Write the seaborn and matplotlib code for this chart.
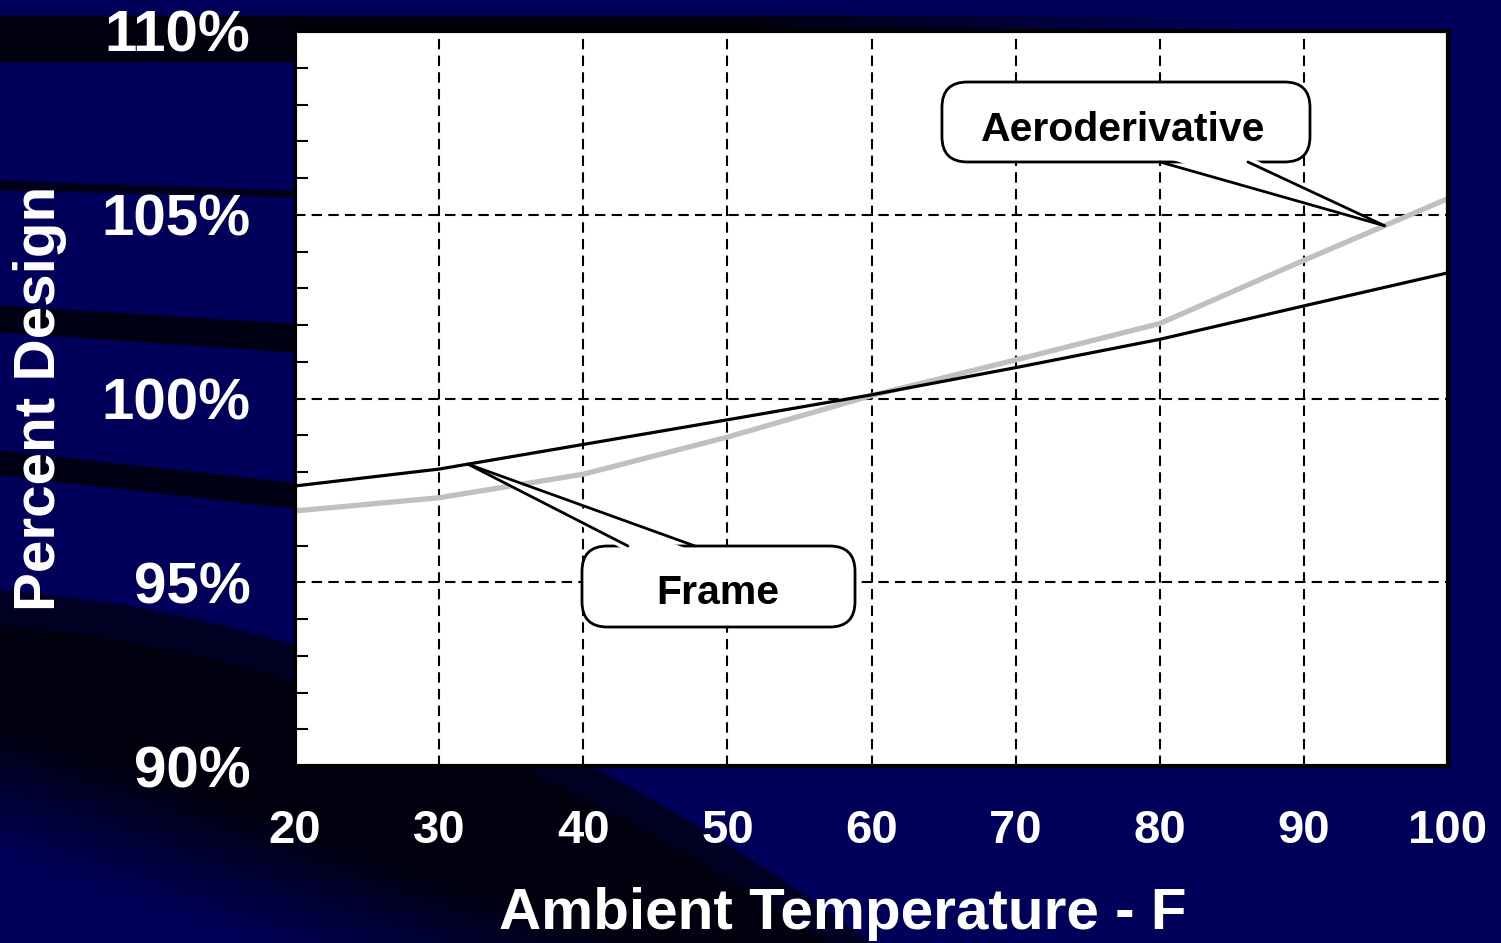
import numpy as np
import pandas as pd
import matplotlib
matplotlib.use("Agg")
import matplotlib.pyplot as plt
import seaborn as sns
from matplotlib.patches import FancyBboxPatch, Polygon
from matplotlib.lines import Line2D
from matplotlib.ticker import MultipleLocator, FixedLocator

# ---- data -------------------------------------------------------------
temps = [20, 30, 40, 50, 60, 70, 80, 90, 100]
frame = [97.62, 98.08, 98.75, 99.42, 100.1, 100.84, 101.61, 102.52, 103.42]
aero = [96.94, 97.30, 97.94, 98.95, 100.08, 101.05, 102.04, 103.76, 105.44]

x_ticks = [20, 30, 40, 50, 60, 70, 80, 90, 100]
y_ticks = [90, 95, 100, 105, 110]
y_tick_labels = ["90%", "95%", "100%", "105%", "110%"]

frame_name = "Frame"
aero_name = "Aeroderivative"
frame_callout_temp = 32.0
aero_callout_temp = 95.6

# ---- figure -----------------------------------------------------------
W, H = 1501, 943
sns.set_style("white")
plt.rcParams["font.family"] = ["Liberation Sans", "DejaVu Sans"]
plt.rcParams["font.weight"] = "bold"

fig = plt.figure(figsize=(W / 100, H / 100), dpi=100)
navy = np.array([0.0, 0.0, 0.36])
deep = np.array([0.0, 0.0, 0.05])
fig.patch.set_facecolor(navy)

# slide background: navy with dark curved swooshes on the left
yy, xx = np.mgrid[0:H, 0:W].astype(float)


def ramp(v, width):
    return np.clip(v / width + 0.5, 0.0, 1.0)


left_fade = np.clip((800 - xx) / 200, 0, 1)


def band(top0, top1, bot0, bot1, strength, soft=2.5):
    top = top0 + (top1 - top0) * xx / 290.0
    bot = bot0 + (bot1 - bot0) * xx / 290.0
    return strength * ramp(yy - top, soft) * ramp(bot - yy, soft) * left_fade


dark = np.zeros((H, W))
top_band = 0.97 * ramp(yy - 15, 2) * ramp(62 - yy, 2) * np.clip((1250 - xx) / 500, 0, 1)
dark = np.maximum(dark, top_band)
dark = np.maximum(dark, band(180, 190, 190, 197, 0.85))
dark = np.maximum(dark, band(305, 323, 332, 352, 0.9))
dark = np.maximum(dark, band(450, 482, 475, 508, 0.9))

c1 = 590 + 0.072 * xx + 3.82e-4 * xx ** 2
c2 = 625 + 0.0876 * xx + 3.58e-4 * xx ** 2
c3 = 800 + 0.35 * xx
lower = 0.72 * ramp(yy - c1, 3) + 0.26 * ramp(yy - c2, 3)
lower = lower * np.clip((c3 + 60 - yy) / 140, 0, 1)
dark = np.maximum(dark, lower)

bg = navy[None, None, :] * (1 - dark[..., None]) + deep[None, None, :] * dark[..., None]
fig.figimage(bg, xo=0, yo=0, origin="upper", zorder=-10)

# ---- axes -------------------------------------------------------------
left, right, top, bottom = 295 / W, 1448 / W, 1 - 31 / H, 1 - 766 / H
ax = fig.add_axes([left, bottom, right - left, top - bottom])
ax.set_facecolor("white")

df_frame = pd.DataFrame({"temp": temps, "pct": frame})
df_aero = pd.DataFrame({"temp": temps, "pct": aero})
sns.lineplot(data=df_aero, x="temp", y="pct", ax=ax, color="#c0c0c0",
             linewidth=3.8, zorder=3, solid_capstyle="round")
sns.lineplot(data=df_frame, x="temp", y="pct", ax=ax, color="black",
             linewidth=2.3, zorder=4)

ax.set_xlim(20, 100)
ax.set_ylim(90, 110)
ax.xaxis.set_major_locator(FixedLocator(x_ticks))
ax.yaxis.set_major_locator(FixedLocator(y_ticks))
ax.yaxis.set_minor_locator(MultipleLocator(1))
ax.set_yticklabels(y_tick_labels)

ax.grid(True, which="major", color="black", linestyle=(0, (5.0, 3.0)),
        linewidth=1.5)
ax.set_axisbelow(True)

for sp in ax.spines.values():
    sp.set_visible(True)
    sp.set_color("black")
    sp.set_linewidth(3.0)
    sp.set_zorder(6)

ax.tick_params(axis="x", which="major", direction="out", length=11, width=1.6,
               color="black", pad=20, labelsize=34, labelcolor="white")
ax.tick_params(axis="y", which="major", direction="out", length=13, width=1.6,
               color="black", pad=19, labelsize=42, labelcolor="white")
ax.tick_params(axis="y", which="minor", direction="in", length=9, width=1.5,
               color="black", left=True)
for lab in ax.get_xticklabels() + ax.get_yticklabels():
    lab.set_fontweight("bold")

ax.set_xlabel("Ambient Temperature - F", fontsize=42, fontweight="bold",
              color="white")
ax.set_ylabel("Percent Design", fontsize=42, fontweight="bold", color="white")
ax.xaxis.set_label_coords(0.475, -0.165)
ax.yaxis.set_label_coords(-0.198, 0.5)

# ---- callouts ---------------------------------------------------------
aspect = (right - left) * W / ((top - bottom) * H)
callout_font = ["Liberation Sans Narrow", "Liberation Sans"]


def callout(text, box, base_xs, base_y, text_xy, tip_temp, series, fontsize):
    x0, y0, x1, y1 = box
    patch = FancyBboxPatch((x0, y0), x1 - x0, y1 - y0,
                           boxstyle="round,pad=0,rounding_size=0.022",
                           mutation_aspect=aspect,
                           transform=ax.transAxes, facecolor="white",
                           edgecolor="black", linewidth=2.0, zorder=7,
                           clip_on=False)
    ax.add_patch(patch)
    tip = ax.transLimits.transform((tip_temp, np.interp(tip_temp, temps, series)))
    inward = -0.008 if base_y > (y0 + y1) / 2 else 0.008
    fill = Polygon([(base_xs[0], base_y + inward), (tip[0], tip[1]),
                    (base_xs[1], base_y + inward)], closed=True,
                   transform=ax.transAxes, facecolor="white",
                   edgecolor="none", zorder=8, clip_on=False)
    ax.add_patch(fill)
    for bx in base_xs:
        ax.add_line(Line2D([bx, tip[0]], [base_y, tip[1]], color="black",
                           linewidth=2.0, transform=ax.transAxes, zorder=9,
                           clip_on=False))
    ax.text(text_xy[0], text_xy[1], text, transform=ax.transAxes,
            ha="center", va="center", fontsize=fontsize, fontweight="bold",
            family=callout_font, color="black", zorder=10)


callout(aero_name, (0.5611, 0.8218, 0.8803, 0.9306), (0.7502, 0.8265), 0.8218,
        (0.7181, 0.8650), aero_callout_temp, aero, 29.5)
callout(frame_name, (0.2489, 0.1891, 0.4857, 0.2993), (0.2888, 0.3469), 0.2993,
        (0.3669, 0.2360), frame_callout_temp, frame, 29.5)

fig.savefig("out.png", dpi=100, facecolor=fig.get_facecolor())
